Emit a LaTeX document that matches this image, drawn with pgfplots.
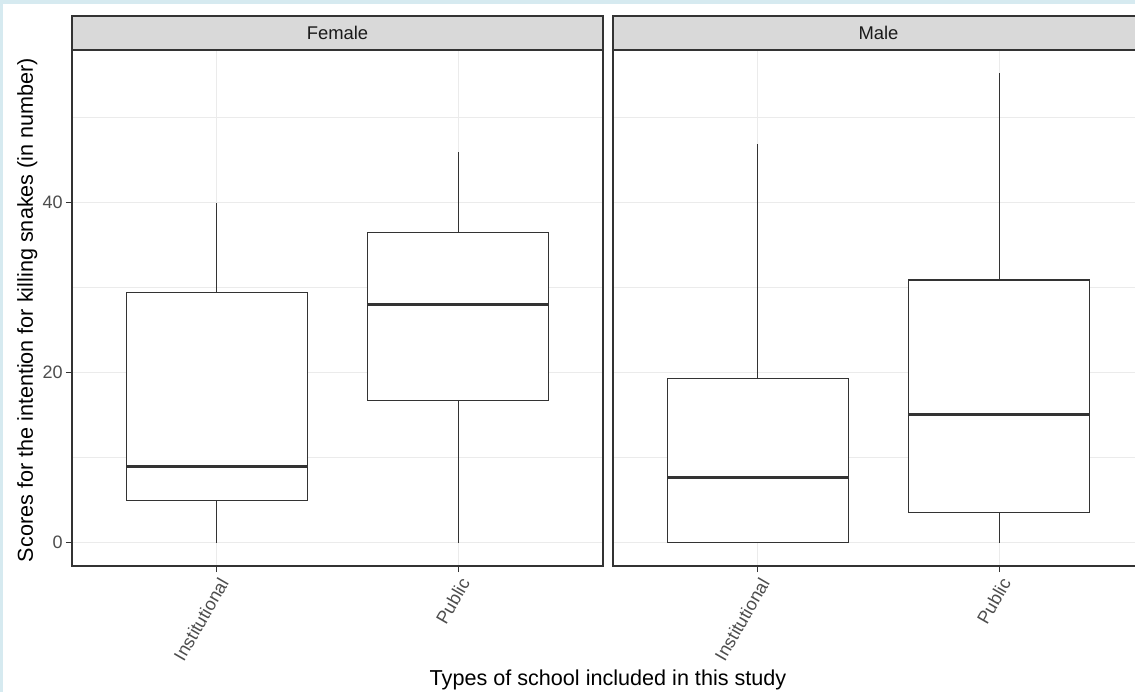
\documentclass[border=0pt]{standalone}
\usepackage{pgfplots}
\pgfplotsset{compat=1.18}
\usepgfplotslibrary{statistics}
\usepackage{fontspec}
\setmainfont{Liberation Sans}
\definecolor{bgblue}{HTML}{D6EAF0}
\definecolor{g20}{HTML}{333333}
\definecolor{g30}{HTML}{4D4D4D}
\definecolor{g85}{HTML}{D9D9D9}
\definecolor{g92}{HTML}{EBEBEB}
\definecolor{g10}{HTML}{1A1A1A}
\pgfplotsset{panel/.style={
  scale only axis, width=265.5pt, height=258pt, anchor=south west,
  xmin=0.4, xmax=2.6, ymin=-2.76, ymax=57.96,
  xtick={1,2}, xticklabels={Institutional,Public},
  ytick={0,20,40}, minor ytick={10,30,50},
  grid=both,
  major grid style={g92, line width=0.55pt},
  minor grid style={g92, line width=0.3pt},
  axis line style={g20, line width=0.6pt},
  tick align=outside, xtick pos=lower, ytick pos=left,
  major tick length=3pt, minor tick length=0pt,
  tick style={g20, line width=0.55pt},
  xticklabel style={rotate=60, anchor=north east, font=\fontsize{9}{10}\selectfont, text=g30, inner sep=1.5pt},
  yticklabel style={font=\fontsize{9}{10}\selectfont, text=g30, inner sep=1.5pt},
  /pgf/number format/assume math mode=true,
  boxplot/draw direction=y,
  boxplot/box extend=0.75,
  boxplot/whisker extend=0,
  boxplot/every median/.style={line width=1.2pt},
}}
\begin{document}
\begin{tikzpicture}
\useasboundingbox (0,0) rectangle (567.5pt,346pt);
\clip (0,0) rectangle (567.5pt,346pt);
\fill[bgblue] (0,0) rectangle (567.5pt,346pt);
\fill[white] (1.5pt,0) rectangle (567.5pt,344pt);
% Female panel
\begin{axis}[panel, at={(36pt,63pt)}]
\addplot[draw=g20, line width=0.6pt, fill=white, boxplot prepared={draw position=1,
  lower whisker=0, lower quartile=4.94, median=8.94, upper quartile=29.4, upper whisker=40}] coordinates {};
\addplot[draw=g20, line width=0.6pt, fill=white, boxplot prepared={draw position=2,
  lower whisker=0, lower quartile=16.7, median=28.0, upper quartile=36.5, upper whisker=46.0}] coordinates {};
\end{axis}
% Male panel
\begin{axis}[panel, at={(306.5pt,63pt)}, yticklabels={}, ytick style={draw=none}]
\addplot[draw=g20, line width=0.6pt, fill=white, boxplot prepared={draw position=1,
  lower whisker=0, lower quartile=0, median=7.65, upper quartile=19.3, upper whisker=46.9}] coordinates {};
\addplot[draw=g20, line width=0.6pt, fill=white, boxplot prepared={draw position=2,
  lower whisker=0, lower quartile=3.53, median=15.06, upper quartile=30.9, upper whisker=55.2}] coordinates {};
\end{axis}
% strips
\draw[fill=g85, draw=g20, line width=0.6pt] (36pt,321pt) rectangle (301.5pt,338pt);
\node[text=g10, font=\fontsize{9.2}{10}\selectfont] at (168.75pt,329.5pt) {Female};
\draw[fill=g85, draw=g20, line width=0.6pt] (306.5pt,321pt) rectangle (572pt,338pt);
\node[text=g10, font=\fontsize{9.2}{10}\selectfont] at (439.25pt,329.5pt) {Male};
% axis titles
\node[anchor=base, font=\fontsize{10.8}{12}\selectfont] at (304pt,3.5pt) {Types of school included in this study};
\node[anchor=base, rotate=90, font=\fontsize{10.8}{12}\selectfont] at (16.5pt,191pt) {Scores for the intention for killing snakes (in number)};
\end{tikzpicture}
\end{document}
